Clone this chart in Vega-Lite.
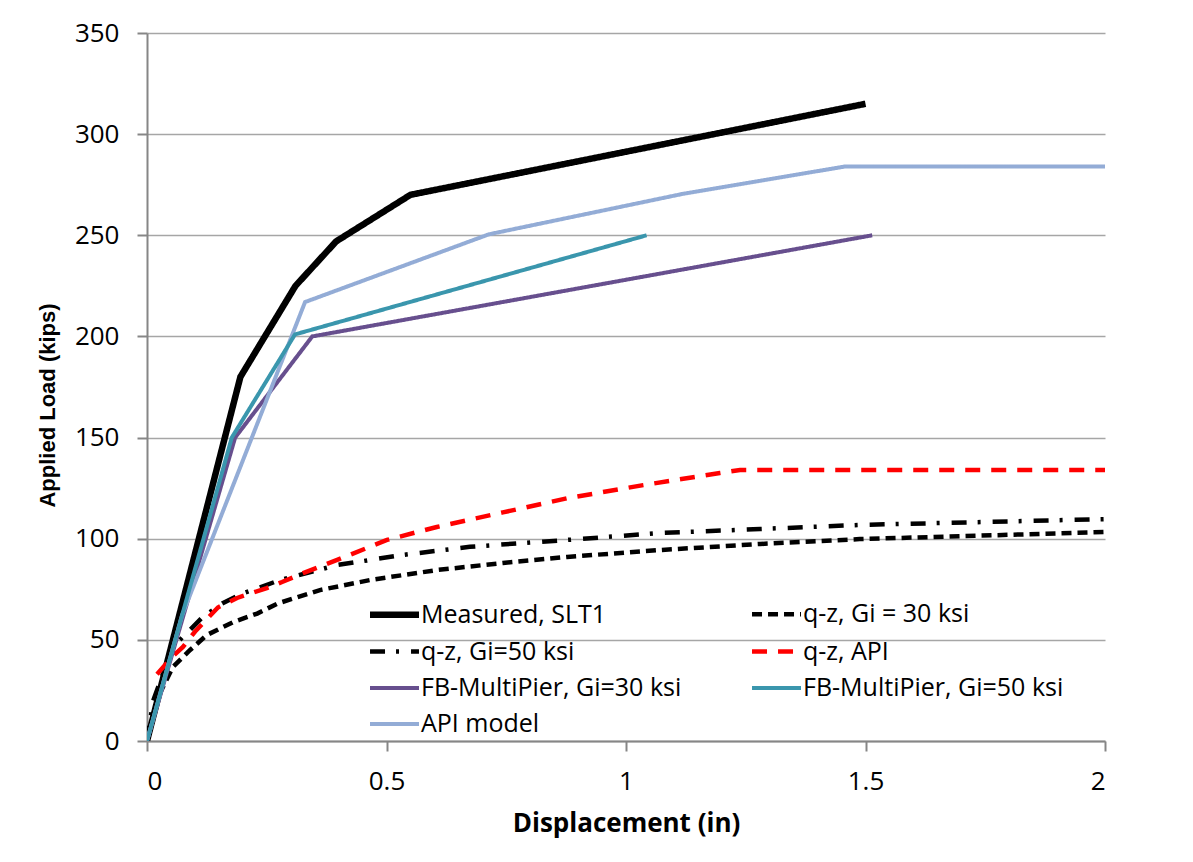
{
  "$schema": "https://vega.github.io/schema/vega-lite/v6.json",
  "width": 958,
  "height": 708,
  "autosize": {"type": "none"},
  "padding": {"left": 147, "top": 33, "right": 88, "bottom": 121},
  "background": "white",
  "config": {
    "view": {"stroke": null},
    "axis": {
      "labelFont": "Open Sans",
      "labelFontSize": 26,
      "labelColor": "#000000",
      "titleColor": "#000000",
      "domainColor": "#868686",
      "domainWidth": 2,
      "tickColor": "#868686",
      "tickWidth": 2,
      "tickSize": 10,
      "gridColor": "#a6a6a6",
      "gridWidth": 1.5
    }
  },
  "data": {
    "values": [
      {"series": "Measured, SLT1", "x": 0, "y": 0},
      {"series": "Measured, SLT1", "x": 0.195, "y": 180},
      {"series": "Measured, SLT1", "x": 0.31, "y": 225},
      {"series": "Measured, SLT1", "x": 0.395, "y": 247},
      {"series": "Measured, SLT1", "x": 0.55, "y": 270},
      {"series": "Measured, SLT1", "x": 1.5, "y": 315},

      {"series": "q-z, Gi = 30 ksi", "x": 0, "y": 0},
      {"series": "q-z, Gi = 30 ksi", "x": 0.027, "y": 23.6},
      {"series": "q-z, Gi = 30 ksi", "x": 0.054, "y": 36.6},
      {"series": "q-z, Gi = 30 ksi", "x": 0.09, "y": 45},
      {"series": "q-z, Gi = 30 ksi", "x": 0.125, "y": 52.4},
      {"series": "q-z, Gi = 30 ksi", "x": 0.18, "y": 58.8},
      {"series": "q-z, Gi = 30 ksi", "x": 0.23, "y": 63},
      {"series": "q-z, Gi = 30 ksi", "x": 0.273, "y": 68},
      {"series": "q-z, Gi = 30 ksi", "x": 0.361, "y": 74.6},
      {"series": "q-z, Gi = 30 ksi", "x": 0.466, "y": 79.6},
      {"series": "q-z, Gi = 30 ksi", "x": 0.605, "y": 84.5},
      {"series": "q-z, Gi = 30 ksi", "x": 0.743, "y": 88},
      {"series": "q-z, Gi = 30 ksi", "x": 0.877, "y": 91},
      {"series": "q-z, Gi = 30 ksi", "x": 1.071, "y": 94.4},
      {"series": "q-z, Gi = 30 ksi", "x": 1.28, "y": 97.4},
      {"series": "q-z, Gi = 30 ksi", "x": 1.488, "y": 99.8},
      {"series": "q-z, Gi = 30 ksi", "x": 2.0, "y": 103.3},

      {"series": "q-z, Gi=50 ksi", "x": 0, "y": 0},
      {"series": "q-z, Gi=50 ksi", "x": 0.013, "y": 20},
      {"series": "q-z, Gi=50 ksi", "x": 0.054, "y": 46.5},
      {"series": "q-z, Gi=50 ksi", "x": 0.09, "y": 55},
      {"series": "q-z, Gi=50 ksi", "x": 0.115, "y": 61},
      {"series": "q-z, Gi=50 ksi", "x": 0.157, "y": 68},
      {"series": "q-z, Gi=50 ksi", "x": 0.2, "y": 73},
      {"series": "q-z, Gi=50 ksi", "x": 0.236, "y": 76},
      {"series": "q-z, Gi=50 ksi", "x": 0.278, "y": 79.6},
      {"series": "q-z, Gi=50 ksi", "x": 0.397, "y": 87},
      {"series": "q-z, Gi=50 ksi", "x": 0.535, "y": 92},
      {"series": "q-z, Gi=50 ksi", "x": 0.674, "y": 96},
      {"series": "q-z, Gi=50 ksi", "x": 0.877, "y": 99.4},
      {"series": "q-z, Gi=50 ksi", "x": 1.071, "y": 102.8},
      {"series": "q-z, Gi=50 ksi", "x": 1.28, "y": 104.8},
      {"series": "q-z, Gi=50 ksi", "x": 1.488, "y": 106.8},
      {"series": "q-z, Gi=50 ksi", "x": 2.0, "y": 109.7},

      {"series": "q-z, API", "x": 0.021, "y": 33},
      {"series": "q-z, API", "x": 0.052, "y": 41.5},
      {"series": "q-z, API", "x": 0.075, "y": 46.5},
      {"series": "q-z, API", "x": 0.1, "y": 54},
      {"series": "q-z, API", "x": 0.148, "y": 66},
      {"series": "q-z, API", "x": 0.188, "y": 70.7},
      {"series": "q-z, API", "x": 0.25, "y": 75.6},
      {"series": "q-z, API", "x": 0.282, "y": 78.6},
      {"series": "q-z, API", "x": 0.326, "y": 83},
      {"series": "q-z, API", "x": 0.397, "y": 89.5},
      {"series": "q-z, API", "x": 0.501, "y": 99.4},
      {"series": "q-z, API", "x": 0.605, "y": 105.8},
      {"series": "q-z, API", "x": 0.743, "y": 113},
      {"series": "q-z, API", "x": 0.877, "y": 120},
      {"series": "q-z, API", "x": 1.036, "y": 126.5},
      {"series": "q-z, API", "x": 1.196, "y": 132.5},
      {"series": "q-z, API", "x": 1.238, "y": 134},
      {"series": "q-z, API", "x": 2.0, "y": 134},

      {"series": "FB-MultiPier, Gi=30 ksi", "x": 0, "y": 0},
      {"series": "FB-MultiPier, Gi=30 ksi", "x": 0.184, "y": 150},
      {"series": "FB-MultiPier, Gi=30 ksi", "x": 0.345, "y": 200},
      {"series": "FB-MultiPier, Gi=30 ksi", "x": 1.514, "y": 250},

      {"series": "API model", "x": 0, "y": 0},
      {"series": "API model", "x": 0.073, "y": 62},
      {"series": "API model", "x": 0.33, "y": 217},
      {"series": "API model", "x": 0.714, "y": 250.5},
      {"series": "API model", "x": 1.119, "y": 270.5},
      {"series": "API model", "x": 1.457, "y": 284},
      {"series": "API model", "x": 2.0, "y": 284},

      {"series": "FB-MultiPier, Gi=50 ksi", "x": 0, "y": 0},
      {"series": "FB-MultiPier, Gi=50 ksi", "x": 0.177, "y": 150},
      {"series": "FB-MultiPier, Gi=50 ksi", "x": 0.309, "y": 201},
      {"series": "FB-MultiPier, Gi=50 ksi", "x": 1.043, "y": 250}
    ]
  },
  "mark": {"type": "line", "strokeCap": "butt", "clip": true},
  "encoding": {
    "x": {
      "field": "x",
      "type": "quantitative",
      "scale": {"domain": [0, 2], "nice": false, "zero": false},
      "axis": {
        "values": [0, 0.5, 1, 1.5, 2],
        "format": "~g",
        "grid": false,
        "labelPadding": 17,
        "title": "Displacement (in)",
        "titleFont": "Open Sans",
        "titleFontSize": 26,
        "titleFontWeight": "bold",
        "titleY": 69
      }
    },
    "y": {
      "field": "y",
      "type": "quantitative",
      "scale": {"domain": [0, 350], "nice": false},
      "axis": {
        "values": [0, 50, 100, 150, 200, 250, 300, 350],
        "grid": true,
        "labelPadding": 18,
        "title": "Applied Load (kips)",
        "titleFont": "Liberation Sans",
        "titleFontSize": 22,
        "titleFontWeight": "bold",
        "titleX": -88,
        "titleY": 372
      }
    },
    "color": {
      "field": "series",
      "type": "nominal",
      "scale": {
        "domain": ["Measured, SLT1", "q-z, Gi=50 ksi", "FB-MultiPier, Gi=30 ksi", "API model", "q-z, Gi = 30 ksi", "q-z, API", "FB-MultiPier, Gi=50 ksi"],
        "range": ["#000000", "#000000", "#674f8e", "#93acd6", "#000000", "#ff0000", "#3a96ad"]
      },
      "legend": {
        "orient": "none",
        "legendX": 226,
        "legendY": 560,
        "columns": 2,
        "title": null,
        "symbolType": "M-1.36,0H1.36",
        "symbolSize": 1296,
        "labelFont": "Open Sans",
        "labelFontSize": 25,
        "labelColor": "#000000",
        "labelOffset": 5,
        "labelLimit": 400,
        "rowPadding": 3,
        "columnPadding": 61
      }
    },
    "strokeDash": {
      "field": "series",
      "type": "nominal",
      "scale": {
        "domain": ["Measured, SLT1", "q-z, Gi=50 ksi", "FB-MultiPier, Gi=30 ksi", "API model", "q-z, Gi = 30 ksi", "q-z, API", "FB-MultiPier, Gi=50 ksi"],
        "range": [[1, 0], [15, 11, 3, 12], [1, 0], [1, 0], [10, 6], [15, 11], [1, 0]]
      }
    },
    "strokeWidth": {
      "field": "series",
      "type": "nominal",
      "scale": {
        "type": "ordinal",
        "domain": ["Measured, SLT1", "q-z, Gi=50 ksi", "FB-MultiPier, Gi=30 ksi", "API model", "q-z, Gi = 30 ksi", "q-z, API", "FB-MultiPier, Gi=50 ksi"],
        "range": [6.5, 4.5, 4, 4, 4.5, 4.5, 4]
      }
    }
  }
}
